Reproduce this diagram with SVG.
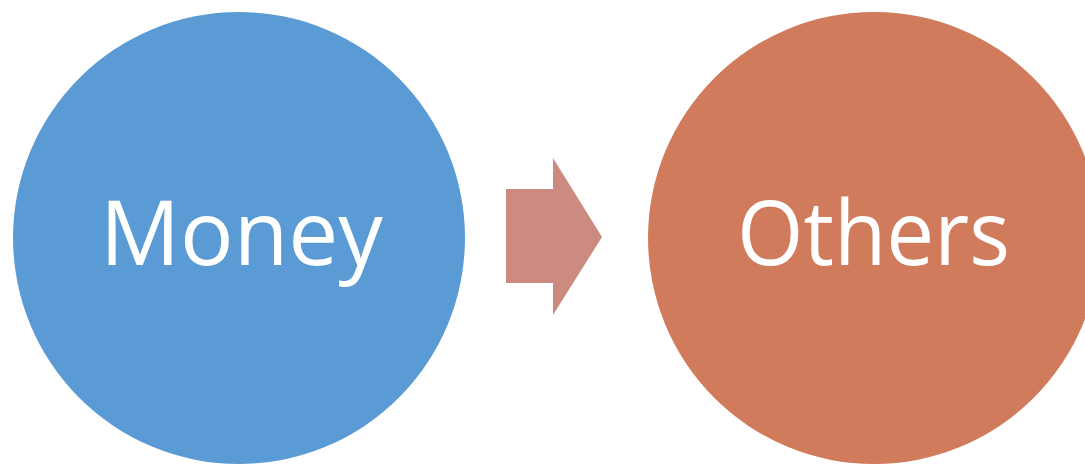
<svg xmlns="http://www.w3.org/2000/svg" width="1085" height="467" viewBox="0 0 1085 467">
<style>
.lbl{font-family:"Open Sans","Noto Sans",sans-serif;font-size:89px;fill:#ffffff;text-anchor:middle}
</style>
<rect width="1085" height="467" fill="#ffffff"/>
<g id="node-money">
<circle cx="239" cy="238" r="226" fill="#5B9BD5"/>
<text class="lbl" x="241.5" y="265" textLength="283" lengthAdjust="spacingAndGlyphs">Money</text>
</g>
<g id="connectors">
<polygon points="506,189 553,189 553,158 602,237 553,315 553,283 506,283" fill="#CC8B81"/>
</g>
<g id="node-others">
<circle cx="874" cy="238" r="226" fill="#D17B5D"/>
<text class="lbl" x="873.5" y="265" textLength="273" lengthAdjust="spacingAndGlyphs">Others</text>
</g>
</svg>
